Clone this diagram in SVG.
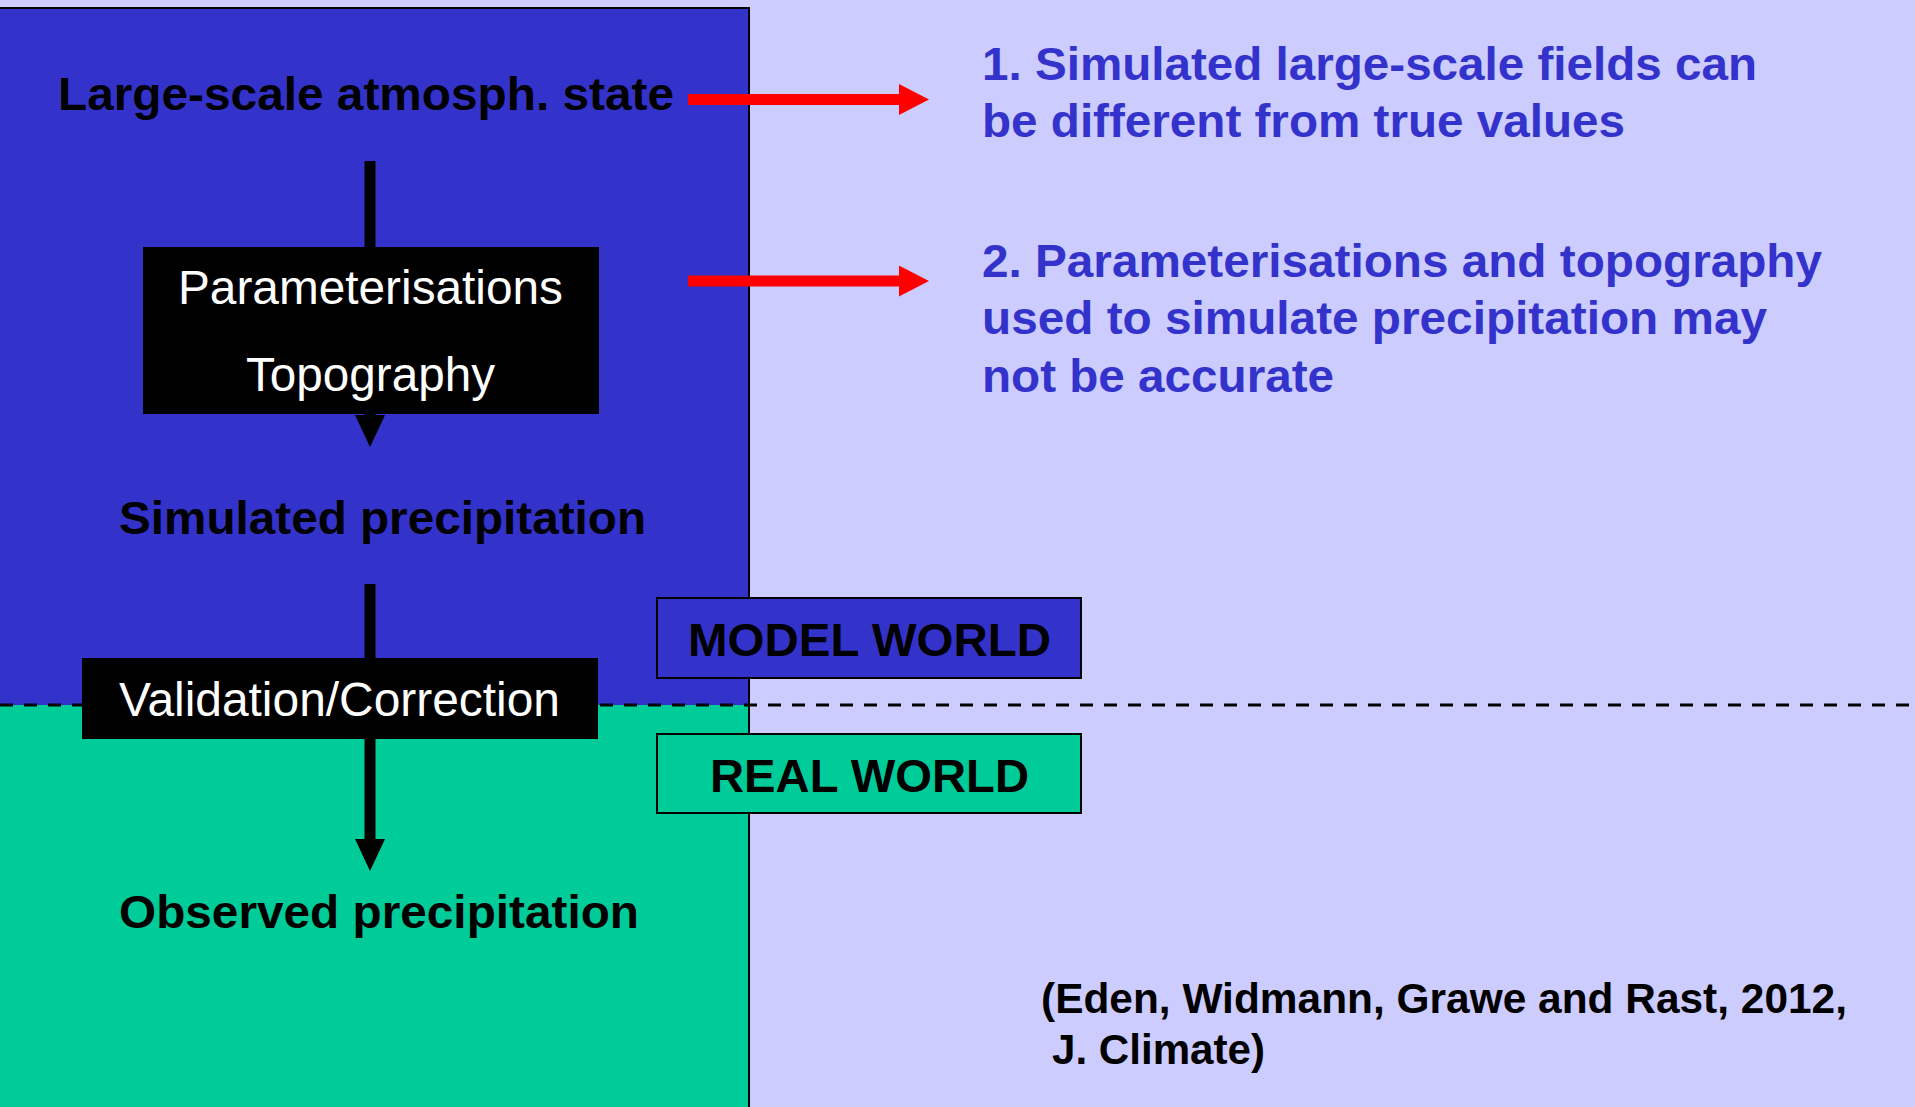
<svg xmlns="http://www.w3.org/2000/svg" width="1915" height="1107" viewBox="0 0 1915 1107">
  <style>
    .bold { font-family: "Liberation Sans", Arial, sans-serif; font-weight: bold; }
    .reg { font-family: "Liberation Sans", Arial, sans-serif; }
    .big { font-size: 47px; fill: #000; }
    .note { font-size: 47px; fill: #3333CC; }
    .white { font-size: 48px; fill: #fff; }
    .cite { font-size: 42px; fill: #000; }
    .blackbox { fill: #000; }
    .conn { stroke: #000; stroke-width: 11; fill: none; }
    .redconn { stroke: #FF0000; stroke-width: 11; fill: none; }
  </style>
  <defs>
    <marker id="headBlack" markerUnits="userSpaceOnUse" viewBox="0 0 32 30" markerWidth="32" markerHeight="30" refX="0" refY="15" orient="auto">
      <path d="M0,0 L32,15 L0,30 Z" fill="#000"/>
    </marker>
    <marker id="headRed" markerUnits="userSpaceOnUse" viewBox="0 0 30 31" markerWidth="30" markerHeight="31" refX="0" refY="15.5" orient="auto">
      <path d="M0,0 L30,15.5 L0,31 Z" fill="#FF0000"/>
    </marker>
  </defs>

  <!-- background -->
  <rect x="0" y="0" width="1915" height="1107" fill="#CCCCFF"/>
  <g id="model-panel">
    <rect x="0" y="8" width="749" height="697" fill="#3333CC"/>
  </g>
  <g id="real-panel">
    <rect x="0" y="705" width="749" height="402" fill="#00CC99"/>
  </g>
  <path d="M0,8 H749 V1107" fill="none" stroke="#000" stroke-width="2"/>
  <line id="divider" x1="0" y1="705" x2="1915" y2="705" stroke="#000" stroke-width="3" stroke-dasharray="13 11"/>

  <g id="connectors">
    <line class="conn" x1="370" y1="161" x2="370" y2="415" marker-end="url(#headBlack)"/>
    <line class="conn" x1="370" y1="584" x2="370" y2="839" marker-end="url(#headBlack)"/>
    <line class="redconn" x1="688" y1="99.5" x2="899" y2="99.5" marker-end="url(#headRed)"/>
    <line class="redconn" x1="688" y1="281" x2="899" y2="281" marker-end="url(#headRed)"/>
  </g>

  <g id="large-scale">
    <text class="bold big" x="58" y="110" textLength="616" lengthAdjust="spacingAndGlyphs">Large-scale atmosph. state</text>
  </g>
  <g id="parameterisations">
    <rect class="blackbox" x="143" y="247" width="456" height="167"/>
    <text class="reg white" x="178" y="304" textLength="385" lengthAdjust="spacingAndGlyphs">Parameterisations</text>
    <text class="reg white" x="246" y="391" textLength="249" lengthAdjust="spacingAndGlyphs">Topography</text>
  </g>
  <g id="simulated">
    <text class="bold big" x="119" y="534" textLength="527" lengthAdjust="spacingAndGlyphs">Simulated precipitation</text>
  </g>
  <g id="validation">
    <rect class="blackbox" x="82" y="658" width="516" height="81"/>
    <text class="reg white" x="119" y="716" textLength="441" lengthAdjust="spacingAndGlyphs">Validation/Correction</text>
  </g>
  <g id="observed">
    <text class="bold big" x="119" y="928" textLength="520" lengthAdjust="spacingAndGlyphs">Observed precipitation</text>
  </g>
  <g id="model-world">
    <rect x="657" y="598" width="424" height="80" fill="#3333CC" stroke="#000" stroke-width="2"/>
    <text class="bold big" x="688" y="656" textLength="363" lengthAdjust="spacingAndGlyphs">MODEL WORLD</text>
  </g>
  <g id="real-world">
    <rect x="657" y="734" width="424" height="79" fill="#00CC99" stroke="#000" stroke-width="2"/>
    <text class="bold big" x="710" y="792" textLength="319" lengthAdjust="spacingAndGlyphs">REAL WORLD</text>
  </g>
  <g id="note1">
    <text class="bold note" x="982" y="80" textLength="775" lengthAdjust="spacingAndGlyphs">1. Simulated large-scale fields can</text>
    <text class="bold note" x="982" y="137" textLength="643" lengthAdjust="spacingAndGlyphs">be different from true values</text>
  </g>
  <g id="note2">
    <text class="bold note" x="982" y="277" textLength="840" lengthAdjust="spacingAndGlyphs">2. Parameterisations and topography</text>
    <text class="bold note" x="982" y="334" textLength="785" lengthAdjust="spacingAndGlyphs">used to simulate precipitation may</text>
    <text class="bold note" x="982" y="392" textLength="352" lengthAdjust="spacingAndGlyphs">not be accurate</text>
  </g>
  <g id="citation">
    <text class="bold cite" x="1041" y="1013" textLength="806" lengthAdjust="spacingAndGlyphs">(Eden, Widmann, Grawe and Rast, 2012,</text>
    <text class="bold cite" x="1052" y="1064" textLength="213" lengthAdjust="spacingAndGlyphs">J. Climate)</text>
  </g>
</svg>
